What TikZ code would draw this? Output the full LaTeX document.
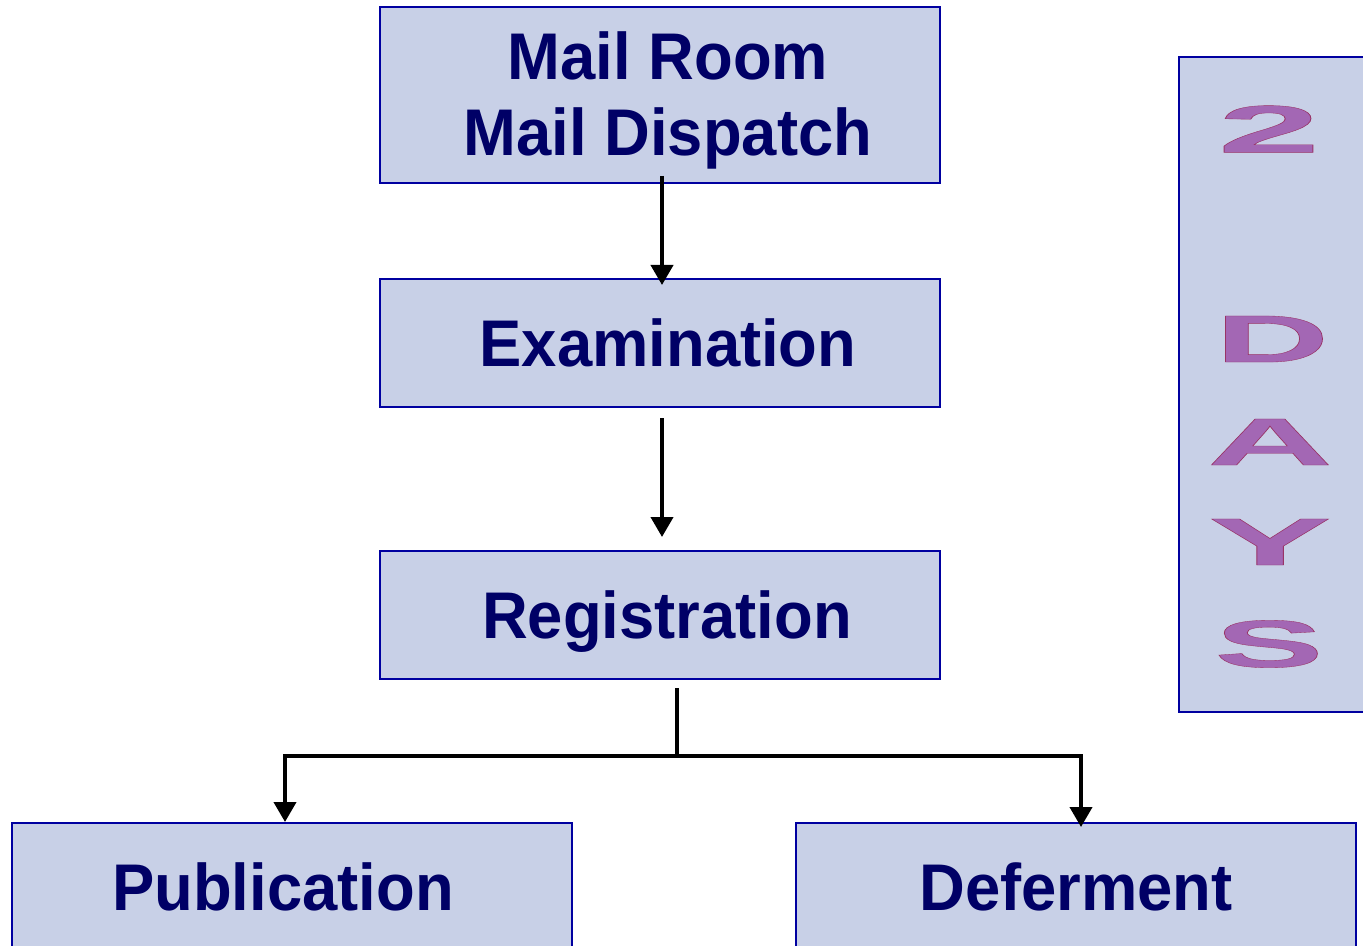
\documentclass[tikz,border=0pt]{standalone}
\usepackage{fontspec}
\setmainfont{Liberation Sans}[FakeStretch=0.96]
\newfontfamily\daysfont{Liberation Sans}[BoldFeatures={FakeBold=0.5}]
\usetikzlibrary{arrows.meta,calc}
\definecolor{boxfill}{HTML}{C8D0E7}
\definecolor{boxline}{HTML}{0000A0}
\definecolor{navy}{HTML}{000066}
\definecolor{dayfill}{HTML}{A367B4}
\tikzset{
  box/.style={draw=boxline, line width=1pt, fill=boxfill, minimum width=280pt, minimum height=64pt,
    inner sep=0pt, font=\fontsize{33}{38}\selectfont\bfseries, text=navy, align=center,
    text height=23.6pt, text depth=0pt},
  boxtext/.style={inner sep=0pt, font=\fontsize{33}{38}\selectfont\bfseries, text=navy, align=center},
  conn/.style={line width=2pt, draw=black},
  arr/.style={conn, -{Triangle[width=11pt,length=10pt]}},
  dayletter/.style={inner sep=0pt, font=\daysfont\fontsize{33.5}{36}\selectfont\bfseries, text=dayfill}
}
\newcommand{\dayl}[2]{\special{pdf:code 0.6 0.2 0.4 RG}\scalebox{#1}[1]{#2}}
\begin{document}
\begin{tikzpicture}[x=0.5pt,y=-0.5pt]
\useasboundingbox (0,0) rectangle (1363,946);
\clip (0,0) rectangle (1363,946);
\node[box, minimum height=88pt] (mail) at (660,95) {};
\node[boxtext] (mailtxt) at (668,100) {Mail Room\\Mail Dispatch};
\node[box] (exam) at (660,343) {\hspace*{8pt}Examination};
\node[box] (reg) at (660,615) {\hspace*{7pt}Registration};
\node[box] (pub) at (292,887) {Publication\hspace*{9pt}};
\node[box] (def) at (1076,887) {Deferment};
\node[draw=boxline, line width=1pt, fill=boxfill, minimum width=95.5pt, minimum height=327.5pt, inner sep=0pt] (days) at (1274.5,384.5) {};
\node[dayletter] (d2) at (1269,129) {\dayl{2.75}{2}};
\node[dayletter] (dD) at (1272,339) {\dayl{2.36}{D}};
\node[dayletter] (dA) at (1270,442) {\dayl{2.6}{A}};
\node[dayletter] (dY) at (1270,542) {\dayl{2.75}{Y}};
\node[dayletter] (dS) at (1269,644) {\dayl{2.45}{S}};
\draw[arr] ([xshift=1pt,yshift=4pt]mail.south) -- ([xshift=1pt,yshift=-3.5pt]exam.north);
\draw[arr] ([xshift=1pt,yshift=-5pt]exam.south) -- ([xshift=1pt,yshift=6.5pt]reg.north);
\coordinate (j) at (677,756);
\draw[conn] ([xshift=8.5pt,yshift=-4pt]reg.south) -- (j);
\draw[arr] (j) -| ([xshift=-3.5pt]pub.north);
\draw[arr] (j) -| ([xshift=2.5pt,yshift=-2.5pt]def.north);
\end{tikzpicture}
\end{document}
